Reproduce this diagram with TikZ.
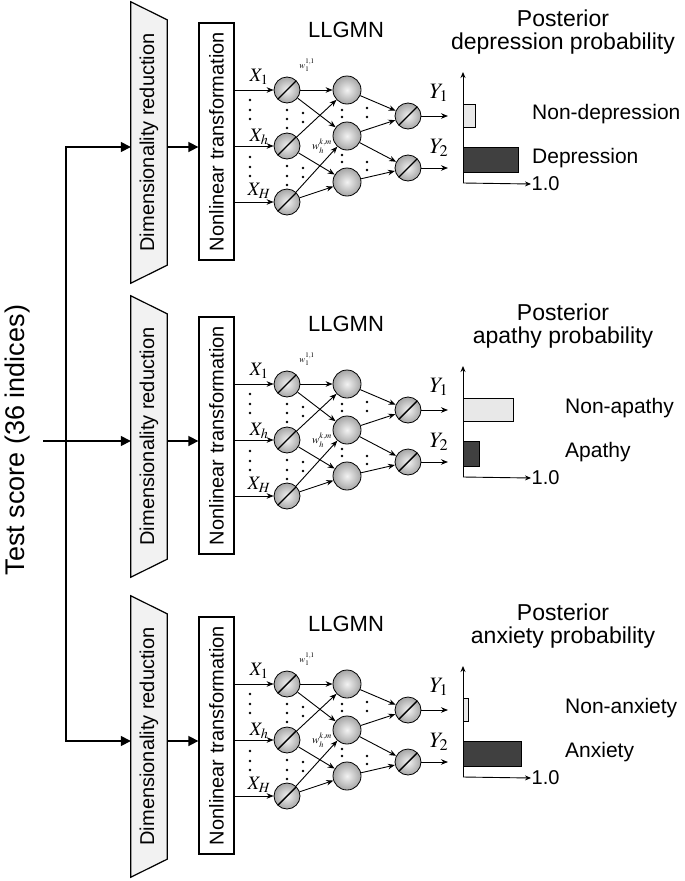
\documentclass[tikz,border=0pt]{standalone}
\usepackage{mathptmx}
\usepackage[no-math]{fontspec}
\setmainfont{Liberation Sans}
\usetikzlibrary{positioning}
\usetikzlibrary{arrows.meta}

\tikzset{
    neuron/.style={circle, draw, line width=0.8pt, inner sep=0pt, minimum size=26pt,
        shading=radial, inner color=gray!10, outer color=gray!70},
    lneuron/.style={neuron, path picture={\draw[line width=1.4pt]
        (path picture bounding box.south west) -- (path picture bounding box.north east);}},
    bigarrow/.style={line width=1.6pt, -{Triangle[length=10pt,width=10pt]}},
    netarrow/.style={line width=0.9pt, -{Stealth[length=7pt,width=5.5pt]}},
    axarrow/.style={line width=0.9pt, -{Stealth[length=6pt,width=5pt]}},
    drshape/.style={draw, line width=1.2pt, fill=gray!10},
    ntbox/.style={draw, line width=1.3pt, inner sep=0pt, minimum width=35pt, minimum height=237pt},
    vtext/.style={rotate=90, font=\fontsize{20}{20}\selectfont},
    xlab/.style={inner sep=0pt, font=\fontsize{19}{19}\selectfont},
    ylab/.style={inner sep=0pt, font=\fontsize{22}{22}\selectfont},
    titletext/.style={align=center, inner sep=0pt, font=\fontsize{23}{23}\selectfont},
    catlabel/.style={anchor=west, inner sep=0pt, font=\fontsize{21}{21}\selectfont},
    lightbar/.style={draw, line width=0.8pt, fill=gray!18, inner sep=0pt, minimum height=23pt, anchor=west},
    darkbar/.style={draw, line width=0.8pt, fill=black!75, inner sep=0pt, minimum height=25pt, anchor=west}
}

\begin{document}
\begin{tikzpicture}[x=1pt,y=-1pt]
    \useasboundingbox (0,0) rectangle (685,881);
    \node[rotate=90, font=\fontsize{27}{27}\selectfont] (ts) at (18,440) {Test score (36 indices)};
    \coordinate (ts2) at (43,441);
    \coordinate (in1) at (66,147);
    \coordinate (in3) at (66,741);

    \foreach \p/\off/\cat/\lna/\lnb/\wa/\wb/\lx in {1/0/depression/Non-depression/Depression/12/55/532,
            2/294/apathy/Non-apathy/Apathy/50/16/565,
            3/594/anxiety/Non-anxiety/Anxiety/5/58/565}{
        \node[inner sep=0pt, minimum width=36pt, minimum height=281pt] (dr\p) at (149,142.5+\off) {};
        \draw[drshape] (dr\p.north west) -- ([yshift=-18pt]dr\p.north east)
            -- ([yshift=18pt]dr\p.south east) -- (dr\p.south west) -- cycle;
        \node[vtext] (drt\p) at (dr\p) {Dimensionality reduction};
        \node[ntbox] (nt\p) at (216.5,141.5+\off) {};
        \node[vtext] (ntt\p) at (nt\p) {Nonlinear transformation};
        \coordinate (m\p) at (66,147+\off);
        \draw[bigarrow] (m\p -| dr\p.east) -- (m\p -| nt\p.west);

        \node[font=\fontsize{22}{22}\selectfont] (llg\p) at (346,30+\off) {LLGMN};
        \foreach \i/\y in {1/90,2/146,3/202}
            \node[lneuron] (a\i-\p) at (287,\y+\off) {};
        \foreach \i/\y in {1/90,2/136,3/182}
            \node[neuron, minimum size=28pt] (b\i-\p) at (347,\y+\off) {};
        \node[lneuron] (c1-\p) at (408,116+\off) {};
        \node[lneuron] (c2-\p) at (408,168+\off) {};
        \foreach \i in {1,2,3}
            \draw[netarrow] (nt\p.east |- a\i-\p) -- (a\i-\p);
        \foreach \i/\j in {1/1,1/2,2/1,2/3,3/2,3/3}
            \draw[netarrow] (a\i-\p) -- (b\j-\p);
        \foreach \i/\j in {1/1,2/1,2/2,3/2}
            \draw[netarrow] (b\i-\p) -- (c\j-\p);
        \coordinate (e1-\p) at (448,116+\off);
        \coordinate (e2-\p) at (448,168+\off);
        \draw[netarrow] (c1-\p) -- (e1-\p);
        \draw[netarrow] (c2-\p) -- (e2-\p);
        \foreach \x/\y in {250/100,250/110,250/119,250/157,250/167,250/176,
                287/110,287/119,287/128,287/166,287/176,287/185,
                303/113,303/122,303/168,303/177,
                342/110,342/117,342/155,342/162,
                367/108,367/117,367/162,367/170}
            \fill (\x,\y+\off) circle (1.3pt);
        \node[xlab] (x1-\p) at (259,77+\off) {$X_1$};
        \node[xlab] (x2-\p) at (259,137+\off) {$X_h$};
        \node[xlab] (x3-\p) at (259,191+\off) {$X_H$};
        \node[inner sep=0pt, font=\fontsize{9}{9}\selectfont] (w1-\p) at (307,65+\off) {$w^{1,1}_{1}$};
        \node[inner sep=0pt, font=\fontsize{11}{11}\selectfont] (w2-\p) at (322,146+\off) {$w^{k,m}_{h}$};
        \node[ylab] (y1-\p) at (439,93+\off) {$Y_1$};
        \node[ylab] (y2-\p) at (439,148+\off) {$Y_2$};

        \node[titletext] (post\p) at (563,32+\off) {Posterior\\\cat{} probability};
        \coordinate (o\p) at (463,183+\off);
        \coordinate (t\p) at (463,72+\off);
        \node[anchor=west, inner sep=0.5pt, font=\fontsize{20}{20}\selectfont] (one\p) at (531,184+\off) {1.0};
        \draw[axarrow] (o\p) -- (t\p);
        \draw[axarrow] (o\p) -- (one\p.west);
        \node[lightbar, minimum width=\wa*1pt] (ba\p) at (463,116+\off) {};
        \node[darkbar, minimum width=\wb*1pt] (bb\p) at (463,159.5+\off) {};
        \node[catlabel] (la\p) at (\lx,114+\off) {\lna};
        \node[catlabel] (lb\p) at (\lx,158+\off) {\lnb};
    }

    \draw[{Triangle[length=10pt,width=10pt]}-{Triangle[length=10pt,width=10pt]}, line width=1.6pt]
        (in1 -| dr1.west) -- (in1) -- (in3) -- (in3 -| dr3.west);
    \draw[bigarrow] (ts2) -- (ts2 -| dr2.west);
\end{tikzpicture}
\end{document}
